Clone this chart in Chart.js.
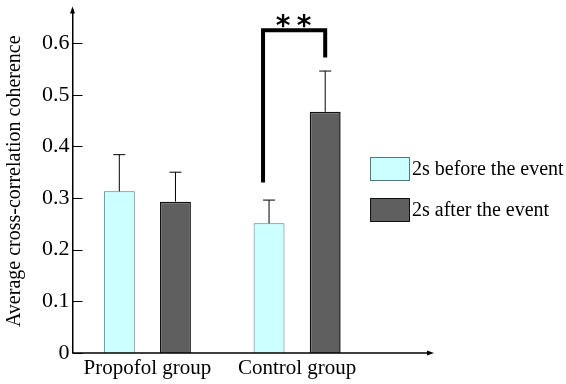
<!DOCTYPE html>
<html>
<head>
<meta charset="utf-8">
<script src="https://cdn.jsdelivr.net/npm/chart.js@4"></script>
<style>
    html, body { margin: 0; padding: 0; background: #fff; }
    #wrap { position: relative; width: 566px; height: 384px; }
    #legend { position: absolute; left: 370px; top: 156px; font-family: "Liberation Serif"; font-size: 20px; color: #000; }
    .item { display: flex; align-items: center; height: 25px; margin-bottom: 16px; white-space: nowrap; }
    .box { width: 40px; height: 24px; border: 1px solid #000; margin-right: 2px; box-sizing: border-box; }
</style>
</head>
<body>
<div id="wrap">
    <canvas id="myChart" width="566" height="384"></canvas>
    <div id="legend"></div>
</div>
<script>
// data
const groups = ['Propofol group', 'Control group'];
const seriesNames = ['2s before the event', '2s after the event'];
const beforeMean = [0.313, 0.251];
const beforeErr = [0.071, 0.045];
const afterMean = [0.293, 0.467];
const afterErr = [0.057, 0.079];
const yTicks = [0, 0.1, 0.2, 0.3, 0.4, 0.5, 0.6];
// significance bracket between the two control bars
const bracketLeft = 0.33;
const bracketRight = 0.572;
const bracketTop = 0.625;
const sigLabel = ['*', '*'];

const fillColors = ['#ccffff', '#5f5f5f'];
const edgeColors = ['#4d7a7a', '#111111'];
const serif = 'Liberation Serif';

// html legend
const legend = document.getElementById('legend');
seriesNames.forEach(function (name, i) {
    const row = document.createElement('div');
    row.className = 'item';
    const box = document.createElement('div');
    box.className = 'box';
    box.style.background = fillColors[i];
    box.style.borderColor = edgeColors[i];
    row.appendChild(box);
    row.appendChild(document.createTextNode(name));
    legend.appendChild(row);
});

const errorBars = {
    id: 'errorBars',
    afterDatasetsDraw(chart) {
        const ctx = chart.ctx;
        const y = chart.scales.y;
        const errs = [beforeErr, afterErr];
        const means = [beforeMean, afterMean];
        ctx.save();
        ctx.strokeStyle = '#000';
        ctx.lineWidth = 1;
        chart.data.datasets.forEach(function (ds, i) {
            chart.getDatasetMeta(i).data.forEach(function (bar, j) {
                const top = y.getPixelForValue(means[i][j] + errs[i][j]);
                ctx.beginPath();
                ctx.moveTo(bar.x, bar.y);
                ctx.lineTo(bar.x, top);
                ctx.moveTo(bar.x - 6, top);
                ctx.lineTo(bar.x + 6, top);
                ctx.stroke();
            });
        });
        ctx.restore();
    }
};

const axesAndBracket = {
    id: 'axesAndBracket',
    afterDraw(chart) {
        const ctx = chart.ctx;
        const area = chart.chartArea;
        const y = chart.scales.y;
        const y0 = y.getPixelForValue(0);
        ctx.save();
        ctx.strokeStyle = '#000';
        ctx.fillStyle = '#000';
        // x axis, running past the plot with an arrow
        ctx.lineWidth = 1.5;
        ctx.beginPath();
        ctx.moveTo(area.left, y0);
        ctx.lineTo(area.right + 58, y0);
        ctx.stroke();
        ctx.beginPath();
        ctx.moveTo(area.right + 62, y0);
        ctx.lineTo(area.right + 55, y0 - 2.5);
        ctx.lineTo(area.right + 55, y0 + 2.5);
        ctx.fill();
        // arrow on y axis
        ctx.beginPath();
        ctx.moveTo(area.left, area.top - 3);
        ctx.lineTo(area.left - 2.5, area.top + 4);
        ctx.lineTo(area.left + 2.5, area.top + 4);
        ctx.fill();
        // inward tick marks
        ctx.lineWidth = 1;
        yTicks.forEach(function (v) {
            const py = Math.round(y.getPixelForValue(v)) + 0.5;
            ctx.beginPath();
            ctx.moveTo(area.left, py);
            ctx.lineTo(area.left + 10, py);
            ctx.stroke();
        });
        // bracket
        const b0 = chart.getDatasetMeta(0).data[1];
        const b1 = chart.getDatasetMeta(1).data[1];
        const lx = b0.x - 6;
        const rx = b1.x;
        const ty = y.getPixelForValue(bracketTop);
        ctx.lineWidth = 4;
        ctx.lineJoin = 'miter';
        ctx.beginPath();
        ctx.moveTo(lx, y.getPixelForValue(bracketLeft));
        ctx.lineTo(lx, ty);
        ctx.lineTo(rx, ty);
        ctx.lineTo(rx, y.getPixelForValue(bracketRight));
        ctx.stroke();
        ctx.font = 'bold 28px "DejaVu Sans"';
        ctx.textAlign = 'center';
        ctx.textBaseline = 'alphabetic';
        const mid = (lx + rx) / 2;
        ctx.fillText(sigLabel[0], mid - 11, ty + 5);
        ctx.fillText(sigLabel[1], mid + 10, ty + 5);
        ctx.restore();
    }
};

const ctx = document.getElementById('myChart');
const myChart = new Chart(ctx, {
    type: 'bar',
    data: {
        labels: groups,
        datasets: [{
            label: seriesNames[0],
            data: beforeMean,
            backgroundColor: fillColors[0],
            borderColor: edgeColors[0],
            borderWidth: 1
        }, {
            label: seriesNames[1],
            data: afterMean,
            backgroundColor: fillColors[1],
            borderColor: edgeColors[1],
            borderWidth: 1.5
        }]
    },
    options: {
        responsive: false,
        animation: false,
        barPercentage: 0.55,
        categoryPercentage: 0.75,
        layout: {
            padding: { left: 3, right: 194, top: 0, bottom: 0 }
        },
        scales: {
            x: {
                grid: { display: false, drawTicks: false },
                border: { display: false },
                ticks: {
                    color: '#000',
                    padding: 4,
                    font: { family: serif, size: 21, lineHeight: 1.1 }
                }
            },
            y: {
                min: 0,
                max: 0.665,
                afterBuildTicks: function (scale) {
                    scale.ticks = yTicks.map(v => ({ value: v }));
                },
                grid: { display: false, drawTicks: false },
                border: { display: true, color: '#000', width: 1.5 },
                ticks: {
                    color: '#000',
                    padding: 3,
                    font: { family: serif, size: 22, lineHeight: 0.6 }
                },
                title: {
                    display: true,
                    text: 'Average cross-correlation coherence',
                    color: '#000',
                    padding: { top: 0, bottom: 12 },
                    font: { family: serif, size: 20 }
                }
            }
        },
        plugins: {
            legend: { display: false },
            tooltip: { enabled: false }
        }
    },
    plugins: [errorBars, axesAndBracket]
});
</script>
</body>
</html>
